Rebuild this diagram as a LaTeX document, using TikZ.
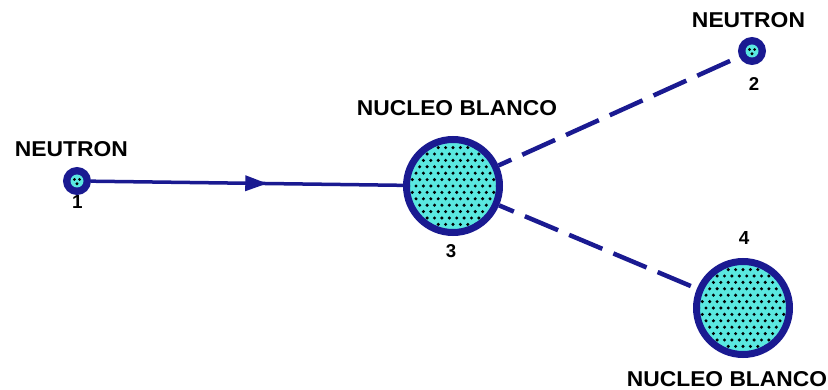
\documentclass[tikz,border=0pt]{standalone}
\usepackage{fontspec}
\setmainfont{Liberation Sans}
\usetikzlibrary{arrows.meta,decorations.markings}
\definecolor{nblue}{RGB}{26,26,145}
\definecolor{ncyan}{RGB}{90,232,224}
\newcommand\biglbl[2]{\resizebox{#1}{15pt}{\bfseries #2}}
\newcommand\numlbl[1]{\resizebox{!}{13pt}{\bfseries #1}}
\begin{document}
\begin{tikzpicture}[x=1pt,y=-1pt,
  nucleus/.style={circle,minimum size=93pt,inner sep=0pt,draw=nblue,line width=7pt,fill=ncyan,
    path picture={
      \foreach \j in {-8,...,8}{
        \foreach \i in {-8,...,8}{
          \fill[black] (path picture bounding box.center) ++({\i*7.4+mod(\j,2)*3.7},{\j*6.4}) circle (1.7pt);
        }
      }
    }},
  neutron/.style={circle,minimum size=24pt,inner sep=0pt,draw=nblue,line width=4pt,fill=nblue,
    path picture={
      \fill[ncyan] (path picture bounding box.center) circle (6.5pt);
      \fill[black] (path picture bounding box.center) ++(-2.6,-1.5) circle (1.6pt);
      \fill[black] (path picture bounding box.center) ++(2.6,-1.5) circle (1.6pt);
      \fill[black] (path picture bounding box.center) ++(0,2.8) circle (1.6pt);
    }},
  lbl/.style={inner sep=0pt,anchor=base},
  solidline/.style={draw=nblue,line width=3.5pt},
  dashline/.style={draw=nblue,line width=4.5pt,dash pattern=on 36pt off 12pt}
]
\useasboundingbox (0,0) rectangle (828,390);
\fill[white] (0,0) rectangle (828,390);
\clip (0,0) rectangle (828,390);

\node[neutron] (n1) at (77,181) {};
\node[nucleus] (n3) at (453,186) {};
\node[neutron] (n2) at (752,51) {};
\node[nucleus] (n4) at (743,308) {};

\draw[solidline,postaction={decorate},
  decoration={markings,mark=at position 0.565 with {\arrow[nblue]{Triangle[length=22pt,width=15pt]}}}]
  (n1) -- (n3);
\draw[dashline,dash phase=22pt] (n3) -- (n2);
\draw[dashline,dash phase=20pt] (n3) -- (n4);

\node[lbl] (t1) at (71.5,157) {\biglbl{113pt}{NEUTRON}};
\node[lbl] (t2) at (748.5,28) {\biglbl{113pt}{NEUTRON}};
\node[lbl] (t3) at (457,116) {\biglbl{200pt}{NUCLEO BLANCO}};
\node[lbl] (t4) at (727,387) {\biglbl{200pt}{NUCLEO BLANCO}};

\node[lbl] (d1) at (77.5,209) {\numlbl{1}};
\node[lbl] (d2) at (754,91) {\numlbl{2}};
\node[lbl] (d3) at (451,258) {\numlbl{3}};
\node[lbl] (d4) at (744,245) {\numlbl{4}};
\end{tikzpicture}
\end{document}
